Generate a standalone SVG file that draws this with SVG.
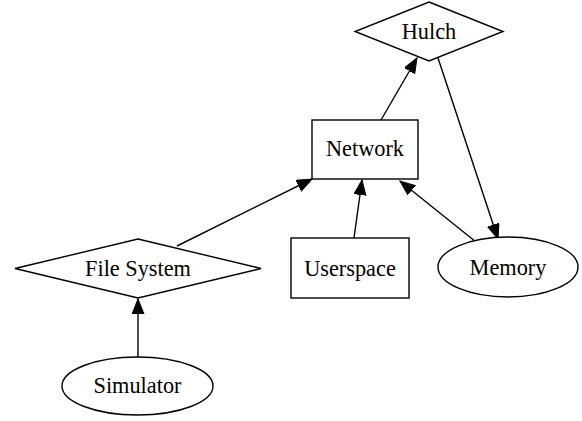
<svg xmlns="http://www.w3.org/2000/svg" width="582" height="421" viewBox="0 0 582 421">
<style>
.n{fill:#fff;stroke:#000;stroke-width:1.4}
.t{font-family:"Liberation Serif","Times New Roman",serif;font-size:22.3px;text-anchor:middle;fill:#000}
.e{fill:none;stroke:#000;stroke-width:1.4}
</style>
<defs>
<marker id="ah" markerUnits="userSpaceOnUse" markerWidth="16" markerHeight="13" refX="15" refY="6" orient="auto">
<path d="M0,0 L15,6 L0,12 z" fill="#000" stroke="#000" stroke-width="1"/>
</marker>
</defs>
<rect width="582" height="421" fill="#fff"/>
<g id="edges">
<line class="e" x1="138" y1="357" x2="138" y2="299" marker-end="url(#ah)"/>
<line class="e" x1="381" y1="120" x2="417" y2="58" marker-end="url(#ah)"/>
<line class="e" x1="438" y1="58" x2="498" y2="239" marker-end="url(#ah)"/>
<line class="e" x1="476" y1="242" x2="400" y2="181" marker-end="url(#ah)"/>
<line class="e" x1="177" y1="246" x2="312" y2="179" marker-end="url(#ah)"/>
<line class="e" x1="354" y1="238" x2="362" y2="180" marker-end="url(#ah)"/>
</g>
<g id="hulch">
<polygon class="n" points="429,2 503,31.5 429,61 355,31.5"/>
<text class="t" x="429" y="38.5">Hulch</text>
</g>
<g id="network">
<rect class="n" x="312" y="120" width="106" height="59"/>
<text class="t" x="365" y="156">Network</text>
</g>
<g id="filesystem">
<polygon class="n" points="138,239 261,268.5 138,298 15,268.5"/>
<text class="t" x="138" y="275.5">File System</text>
</g>
<g id="userspace">
<rect class="n" x="291" y="238" width="118" height="60"/>
<text class="t" x="350" y="275.5">Userspace</text>
</g>
<g id="memory">
<ellipse class="n" cx="508" cy="267" rx="70" ry="30"/>
<text class="t" x="508" y="275">Memory</text>
</g>
<g id="simulator">
<ellipse class="n" cx="137.5" cy="386" rx="75.5" ry="29"/>
<text class="t" x="137.5" y="392.5">Simulator</text>
</g>
</svg>
